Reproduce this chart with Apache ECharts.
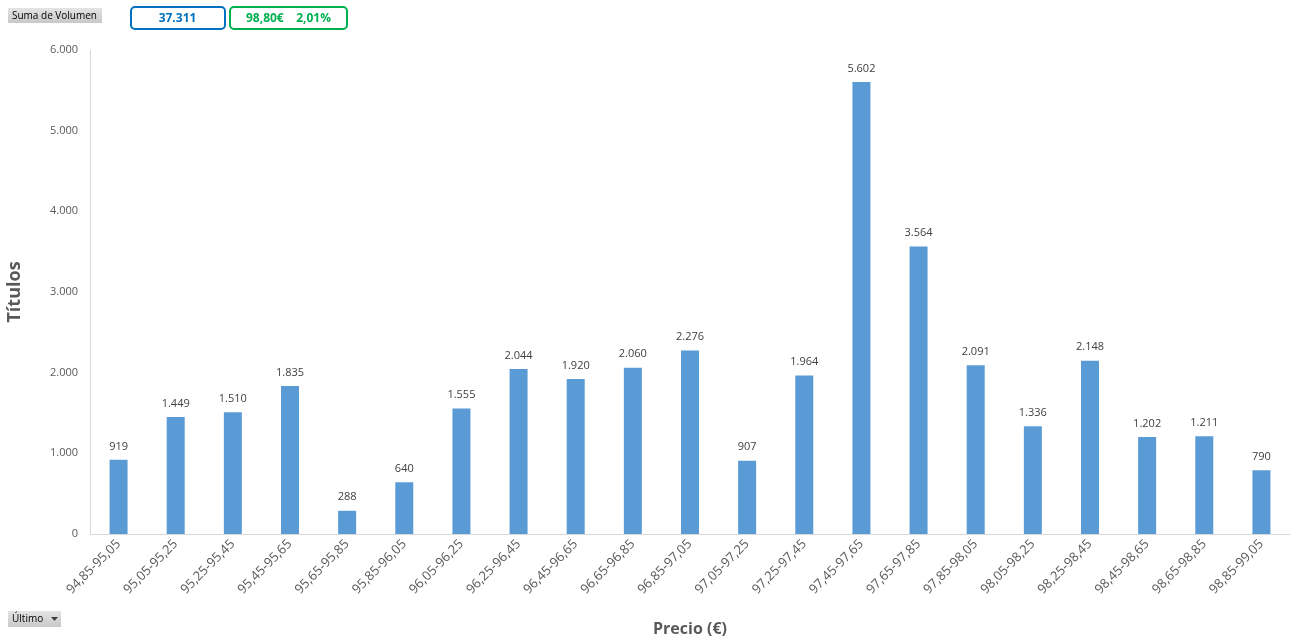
<!DOCTYPE html>
<html>
<head>
<meta charset="utf-8">
<script src="https://cdn.jsdelivr.net/npm/echarts@6/dist/echarts.min.js"></script>
<style>
  html, body { margin: 0; padding: 0; background: #fff; }
  #chart { width: 1295px; height: 637px; }
</style>
</head>
<body>
<div id="chart"></div>
<script>
  // rangos de precio
  var categories = [
    '94,85-95,05', '95,05-95,25', '95,25-95,45', '95,45-95,65', '95,65-95,85',
    '95,85-96,05', '96,05-96,25', '96,25-96,45', '96,45-96,65', '96,65-96,85',
    '96,85-97,05', '97,05-97,25', '97,25-97,45', '97,45-97,65', '97,65-97,85',
    '97,85-98,05', '98,05-98,25', '98,25-98,45', '98,45-98,65', '98,65-98,85',
    '98,85-99,05'
  ]
  // suma de volumen
  var volumen = [919, 1449, 1510, 1835, 288, 640, 1555, 2044, 1920, 2060, 2276,
    907, 1964, 5602, 3564, 2091, 1336, 2148, 1202, 1211, 790]
  var yTicks = [0, 1000, 2000, 3000, 4000, 5000, 6000]

  var fontFam = '"Open Sans", "Noto Sans", sans-serif'

  function fmtMiles (v) {
    return String(v).replace(/\B(?=(\d{3})+(?!\d))/g, '.')
  }

  var chart = echarts.init(document.getElementById('chart'))
  chart.setOption({
    animation: false,
    textStyle: { fontFamily: fontFam },
    grid: { left: 90, right: 5, top: 50, bottom: 103, containLabel: false, outerBoundsMode: 'none' },
    xAxis: {
      type: 'category',
      data: categories,
      name: 'Precio (€)',
      nameLocation: 'middle',
      nameGap: 87,
      nameTextStyle: { color: '#595959', fontSize: 16, fontWeight: 'bold', fontFamily: fontFam },
      axisLine: { lineStyle: { color: '#d9d9d9' } },
      axisTick: { show: false },
      axisLabel: { rotate: 45, color: '#595959', fontSize: 13, margin: 8, interval: 0 }
    },
    yAxis: {
      type: 'value',
      min: yTicks[0],
      max: yTicks[yTicks.length - 1],
      interval: 1000,
      name: 'Títulos',
      nameLocation: 'middle',
      nameGap: 66,
      nameTextStyle: { color: '#595959', fontSize: 18, fontWeight: 'bold', fontFamily: fontFam },
      splitLine: { show: false },
      axisLine: { show: true, lineStyle: { color: '#d9d9d9' } },
      axisTick: { show: false },
      axisLabel: { color: '#595959', fontSize: 11, margin: 12, formatter: fmtMiles }
    },
    series: [{
      name: 'Suma de Volumen',
      type: 'bar',
      data: volumen,
      barWidth: 18,
      itemStyle: { color: '#5b9bd5' },
      label: {
        show: true,
        position: 'top',
        distance: 8,
        color: '#404040',
        fontSize: 11,
        formatter: function (p) { return fmtMiles(p.value) }
      }
    }],
    graphic: [
      // botones de la tabla dinamica
      {
        type: 'group', left: 8, top: 8,
        children: [
          { type: 'rect', shape: { x: 0, y: 0, width: 94, height: 15 },
            style: { fill: new echarts.graphic.LinearGradient(0, 0, 0, 1, [
              { offset: 0, color: '#e4e4e4' }, { offset: 1, color: '#c8c8c8' }]) } },
          { type: 'text', x: 4, y: 8,
            style: { text: 'Suma de Volumen', fontSize: 10, fill: '#000', fontFamily: fontFam, verticalAlign: 'middle' } }
        ]
      },
      {
        type: 'group', left: 130, top: 6,
        children: [
          { type: 'rect', shape: { x: 0.5, y: 0.5, width: 94, height: 22, r: 4 },
            style: { fill: '#fff', stroke: '#0070c0', lineWidth: 2 } },
          { type: 'text', x: 47, y: 12,
            style: { text: '37.311', fontSize: 12, fontWeight: 'bold', fill: '#0070c0', fontFamily: fontFam, align: 'center', verticalAlign: 'middle' } }
        ]
      },
      {
        type: 'group', left: 229, top: 6,
        children: [
          { type: 'rect', shape: { x: 0.5, y: 0.5, width: 117, height: 22, r: 4 },
            style: { fill: '#fff', stroke: '#00b050', lineWidth: 2 } },
          { type: 'text', x: 59, y: 12,
            style: { text: '98,80€    2,01%', fontSize: 12, fontWeight: 'bold', fill: '#00b050', fontFamily: fontFam, align: 'center', verticalAlign: 'middle' } }
        ]
      },
      {
        type: 'group', left: 8, top: 611,
        children: [
          { type: 'rect', shape: { x: 0, y: 0, width: 53, height: 16 },
            style: { fill: new echarts.graphic.LinearGradient(0, 0, 0, 1, [
              { offset: 0, color: '#e4e4e4' }, { offset: 1, color: '#c8c8c8' }]) } },
          { type: 'text', x: 4, y: 8,
            style: { text: 'Último', fontSize: 10, fill: '#000', fontFamily: fontFam, verticalAlign: 'middle' } },
          { type: 'polygon', shape: { points: [[43, 6], [50, 6], [46.5, 10]] },
            style: { fill: '#404040' } }
        ]
      }
    ]
  })
</script>
</body>
</html>
